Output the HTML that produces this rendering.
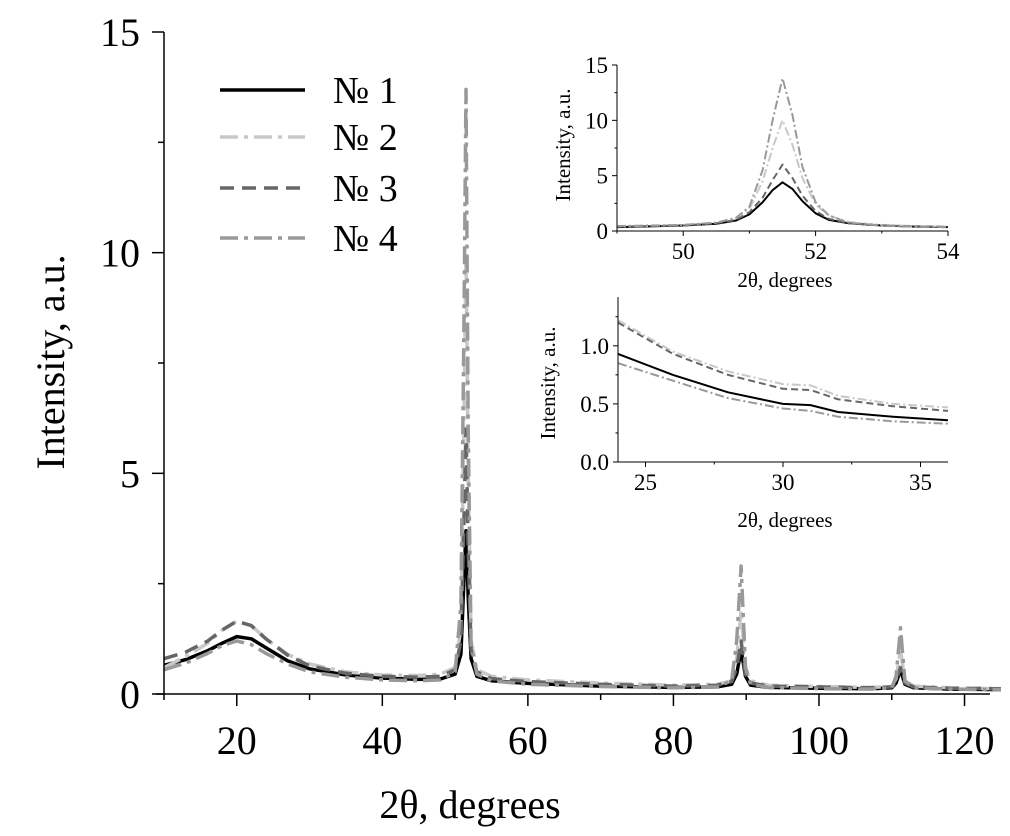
<!DOCTYPE html>
<html><head><meta charset="utf-8"><style>
body{margin:0;background:#fff;}
svg{display:block;font-family:"Liberation Serif",serif;}
</style></head><body>
<svg id="chart" width="1010" height="836" viewBox="0 0 1010 836"></svg>
<script>
// ---------- data ----------
const mainX=[10,13,16,18,20,22,24,27,30,35,40,45,48,50,50.8,51.2,51.5,51.8,52.2,53,55,60,70,80,86,88,88.7,89.3,89.9,90.6,93,100,107,110,110.6,111.2,111.8,113,118,125];
const main1=[0.65,0.78,0.98,1.15,1.3,1.25,1.05,0.75,0.57,0.43,0.36,0.33,0.34,0.45,0.9,2.5,3.7,2.2,0.8,0.4,0.3,0.24,0.18,0.15,0.16,0.22,0.45,1.0,0.4,0.2,0.15,0.13,0.12,0.14,0.25,0.55,0.22,0.14,0.11,0.1];
const main2=[0.6,0.85,1.15,1.45,1.65,1.55,1.25,0.9,0.68,0.5,0.43,0.42,0.45,0.6,1.5,6,10,5,1.2,0.55,0.4,0.32,0.25,0.2,0.22,0.3,0.8,1.9,0.6,0.3,0.2,0.17,0.15,0.17,0.35,1.0,0.3,0.18,0.14,0.12];
const main3=[0.8,0.95,1.2,1.45,1.65,1.55,1.25,0.88,0.64,0.47,0.4,0.38,0.4,0.55,1.2,3.8,6,3.3,1.0,0.5,0.35,0.28,0.22,0.18,0.2,0.28,0.6,1.2,0.45,0.25,0.18,0.16,0.14,0.16,0.3,0.6,0.25,0.16,0.13,0.12];
const main4=[0.55,0.7,0.92,1.1,1.2,1.12,0.92,0.68,0.5,0.38,0.32,0.3,0.32,0.5,2,8,13.7,6,1.1,0.45,0.3,0.22,0.17,0.14,0.16,0.3,1.2,2.9,0.6,0.22,0.15,0.12,0.11,0.14,0.4,1.5,0.3,0.14,0.11,0.1];
const mainXTicks=[20,40,60,80,100,120];
const mainYTicks=[0,5,10,15];

const in1X=[49,49.5,50,50.5,50.8,51,51.2,51.35,51.5,51.65,51.8,52,52.2,52.5,53,53.5,54];
const in1a=[0.35,0.42,0.5,0.65,0.95,1.5,2.6,3.7,4.4,3.8,2.7,1.6,1.0,0.7,0.5,0.4,0.35];
const in1b=[0.4,0.45,0.55,0.75,1.2,2,4.5,7.5,10,7.8,4.8,2.4,1.4,0.8,0.55,0.45,0.4];
const in1c=[0.4,0.45,0.5,0.7,1.0,1.7,3,4.6,6,4.8,3.2,1.8,1.1,0.7,0.5,0.42,0.38];
const in1d=[0.45,0.5,0.55,0.75,1.2,2.2,5.5,10,13.8,10.5,5.8,2.6,1.4,0.75,0.5,0.4,0.35];
const in1XTicks=[50,52,54];
const in1YTicks=[0,5,10,15];

const in2X=[24,26,28,30,31,32,34,36];
const in2a=[0.93,0.75,0.6,0.5,0.49,0.43,0.39,0.36];
const in2b=[1.22,0.95,0.78,0.67,0.66,0.57,0.5,0.47];
const in2c=[1.2,0.93,0.75,0.63,0.62,0.54,0.48,0.44];
const in2d=[0.85,0.7,0.55,0.46,0.44,0.39,0.35,0.33];
const in2XTicks=[25,30,35];
const in2YTicks=[0.0,0.5,1.0];

const legendLabels=["№ 1","№ 2","№ 3","№ 4"];
// ---------- drawing ----------
const svg=document.getElementById('chart');
const NS='http://www.w3.org/2000/svg';
function mk(tag,attrs,parent){const e=document.createElementNS(NS,tag);for(const k in attrs)e.setAttribute(k,attrs[k]);(parent||svg).appendChild(e);return e;}
const styles=[
 {stroke:'#000',dash:null},
 {stroke:'#c8c8c8',dash:[18,6,4,6]},
 {stroke:'#666',dash:[14,8]},
 {stroke:'#999',dash:[18,6,4,6]}
];
function panel(o){
  const g=mk('g',{});
  
  
  const sx=v=>o.x0+(v-o.xmin)*(o.x1-o.x0)/(o.xmax-o.xmin);
  const sy=v=>o.y0-(v-o.ymin)*(o.y0-o.y1)/(o.ymax-o.ymin);
  o.series.forEach((s,i)=>{
    let d='';o.xs.forEach((x,j)=>{d+=(j?'L':'M')+sx(x).toFixed(1)+' '+sy(s[j]).toFixed(1);});
    const st=styles[i];
    const p=mk('path',{d:d,fill:'none',stroke:st.stroke,'stroke-width':o.lw,'stroke-linejoin':'round'},g);
    if(st.dash)p.setAttribute('stroke-dasharray',st.dash.map(v=>v*o.ds).join(' '));
    
    
  });
  const ax=mk('path',{d:`M${o.x0-(o.ext||0)} ${o.y0}H${o.x1}M${o.x0} ${o.y0}V${o.y1}`,stroke:'#000','stroke-width':o.aw,fill:'none'},g);
  
  
  o.xt.forEach(v=>{
    mk('line',{x1:sx(v),x2:sx(v),y1:o.y0,y2:o.y0+o.tl,stroke:'#000','stroke-width':o.aw},g);
    const t=mk('text',{x:sx(v),y:o.y0+o.tl+o.fs*o.xo,'font-size':o.fs,'text-anchor':'middle'},g);
    t.textContent=v;
    
    
  });
  o.mxt.forEach(v=>{mk('line',{x1:sx(v),x2:sx(v),y1:o.y0,y2:o.y0+o.tl/2,stroke:'#000','stroke-width':o.aw},g);});
  o.yt.forEach(v=>{
    mk('line',{x1:o.x0,x2:o.x0-o.tl,y1:sy(v),y2:sy(v),stroke:'#000','stroke-width':o.aw},g);
    const t=mk('text',{x:o.x0-o.tl-o.yo,y:sy(v)+o.fs*0.35,'font-size':o.fs,'text-anchor':'end'},g);
    t.textContent=o.yfmt?v.toFixed(1):v;
    
    
  });
  o.myt.forEach(v=>{mk('line',{x1:o.x0,x2:o.x0-o.tl/2,y1:sy(v),y2:sy(v),stroke:'#000','stroke-width':o.aw},g);});
  const xl=mk('text',{x:o.xlx,y:o.xly,'font-size':o.lfs,'text-anchor':'middle'},g);
  xl.textContent='2θ, degrees';
  
  
  const yl=mk('text',{x:0,y:0,'font-size':o.lfs,'text-anchor':'middle',transform:`translate(${o.ylx},${o.yly}) rotate(-90)`},g);
  yl.textContent='Intensity, a.u.';
  
  
}
panel({name:'main-plot',xs:mainX,series:[main1,main2,main3,main4],xmin:10,xmax:123.5,ymin:0,ymax:15,
 x0:164,x1:990,y0:694,y1:32,lw:3.5,ds:1,aw:1.5,tl:12,ext:8,fs:40,lfs:40,xo:1.2,yo:12,
 xt:mainXTicks,mxt:[10,30,50,70,90,110],yt:mainYTicks,myt:[2.5,7.5,12.5],
 xlx:470,xly:818,ylx:64,yly:362});
panel({name:'inset-peak',xs:in1X,series:[in1a,in1b,in1c,in1d],xmin:49,xmax:54,ymin:0,ymax:15,
 x0:617,x1:948,y0:231,y1:65,lw:2,ds:0.5,aw:1,tl:5,fs:23,lfs:21,xo:1.0,yo:4,
 xt:in1XTicks,mxt:[49,51,53],yt:in1YTicks,myt:[2.5,7.5,12.5],
 xlx:785,xly:287,ylx:570,yly:145});
panel({name:'inset-background',xs:in2X,series:[in2a,in2b,in2c,in2d],xmin:24,xmax:36,ymin:0,ymax:1.42,
 x0:618,x1:948,y0:462,y1:297,lw:2,ds:0.5,aw:1,tl:5,fs:23,lfs:21,yfmt:true,xo:1.0,yo:4,
 xt:in2XTicks,mxt:[27.5,32.5],yt:in2YTicks,myt:[0.25,0.75,1.25],
 xlx:785,xly:527,ylx:555,yly:383});
const lg=mk('g',{});


const ly=[90,137,188,238];
legendLabels.forEach((lab,i)=>{
  const st=styles[i];
  const l=mk('line',{x1:220,x2:305,y1:ly[i],y2:ly[i],stroke:st.stroke,'stroke-width':3.5},lg);
  if(st.dash)l.setAttribute('stroke-dasharray',st.dash.join(' '));
  
  
  const t=mk('text',{x:333,y:ly[i]+13,'font-size':38},lg);
  t.textContent=lab;
  
  
});
</script>
</body></html>
